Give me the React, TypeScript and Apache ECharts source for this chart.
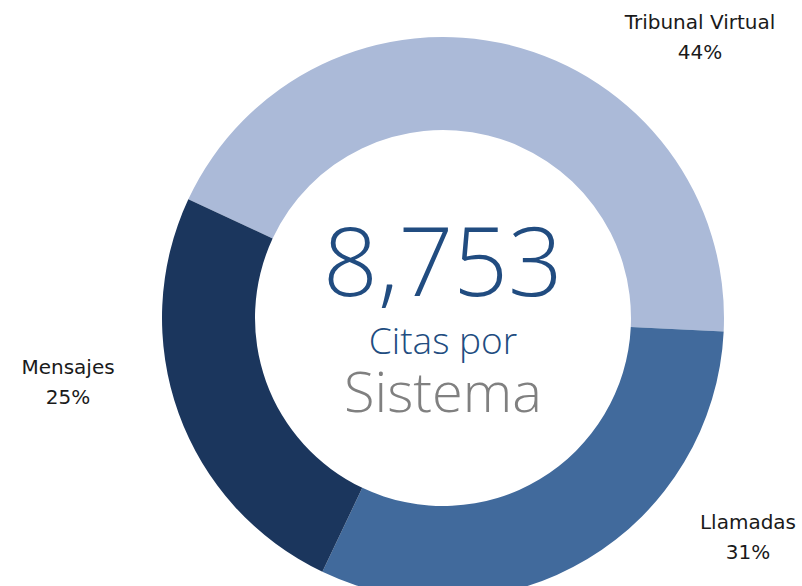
import React, { useEffect, useRef } from "react";
import * as echarts from "echarts";

const categories = ["Tribunal Virtual", "Llamadas", "Mensajes"];
const values = [3835, 2740, 2178];
const colors = ["#ABBAD8", "#416A9C", "#1B365D"];
const totalLabel = "8,753";
const subtitle1 = "Citas por";
const subtitle2 = "Sistema";

const labelPos: Record<number, [number, number]> = {
  0: [700, 37],
  1: [748, 537],
  2: [68, 382],
};

export default function App() {
  const ref = useRef<HTMLDivElement>(null);
  useEffect(() => {
    document.body.style.margin = "0";
    const chart = echarts.init(ref.current!, null, { renderer: "svg" });
    chart.setOption({
      animation: false,
      backgroundColor: "#ffffff",
      series: [
        {
          type: "pie",
          center: [443, 318],
          radius: [188, 281],
          startAngle: 155,
          clockwise: true,
          avoidLabelOverlap: false,
          data: categories.map((c, i) => ({
            name: c,
            value: values[i],
            itemStyle: { color: colors[i] },
          })),
          label: {
            show: true,
            formatter: (p: any) => `${p.name}\n${Math.round(p.percent)}%`,
            fontFamily: "DejaVu Sans",
            fontSize: 20,
            color: "#1a1a1a",
            lineHeight: 30,
            align: "center",
          },
          labelLine: { show: false },
          labelLayout: (p: any) => {
            const pos = labelPos[p.dataIndex];
            return { x: pos[0], y: pos[1], align: "center", verticalAlign: "middle" };
          },
          emphasis: { disabled: true },
        },
      ],
      graphic: [
        {
          type: "text",
          x: 443,
          y: 195,
          style: {
            text: `{a|${totalLabel}}\n{b|${subtitle1}}\n{c|${subtitle2}}`,
            align: "center",
            verticalAlign: "top",
            fontFamily: "Open Sans",
            fontWeight: 300,
            rich: {
              a: {
                fontFamily: "Open Sans",
                fontWeight: 300,
                fontSize: 96,
                lineHeight: 126,
                fill: "#214C80",
                align: "center",
              },
              b: {
                fontFamily: "Open Sans",
                fontWeight: 300,
                fontSize: 37,
                lineHeight: 37,
                fill: "#214C80",
                align: "center",
              },
              c: {
                fontFamily: "Open Sans",
                fontWeight: 300,
                fontSize: 56,
                lineHeight: 64,
                fill: "#808080",
                align: "center",
              },
            },
          },
        },
      ],
    });
    return () => chart.dispose();
  }, []);
  return <div ref={ref} style={{ width: 802, height: 586, position: "absolute", left: 0, top: 0 }} />;
}
